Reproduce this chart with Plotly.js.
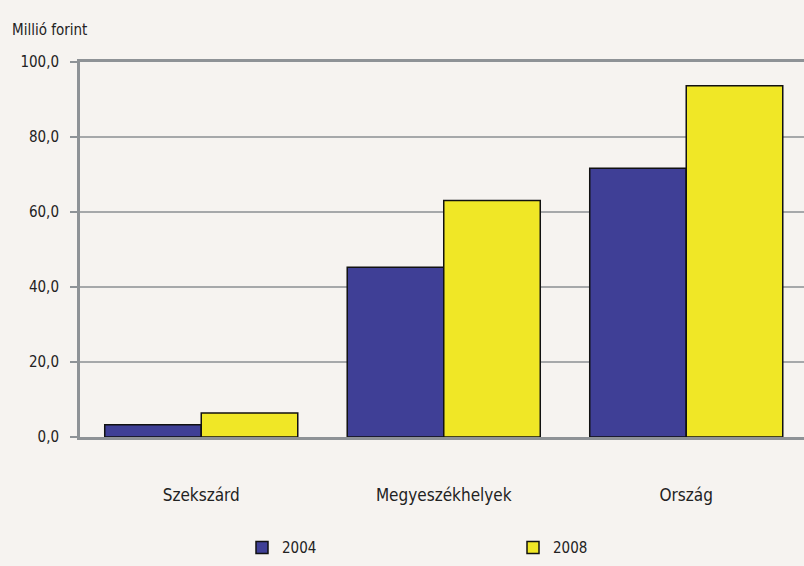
<!DOCTYPE html>
<html><head><meta charset="utf-8">
<script src="https://cdn.plot.ly/plotly-3.0.1.min.js"></script>
<style>html,body{margin:0;padding:0;background:#f6f3f0;}#c{width:804px;height:566px;}</style>
</head><body><div id="c"></div>
<script>
const categories = ["Szekszárd", "Megyeszékhelyek", "Ország"];
const series2004 = [3.3, 45.3, 71.7];
const series2008 = [6.4, 63.1, 93.7];
const seriesNames = ["2004", "2008"];
const yTicks = [0, 20, 40, 60, 80, 100];

const fontFam = "'DejaVu Sans Condensed', 'Liberation Sans Narrow', 'Liberation Sans', Arial, sans-serif";
const traces = [
  {type:'bar', x:categories, y:series2004, name:seriesNames[0], legend:'legend',
   marker:{color:'#3f3f96', line:{color:'#111', width:1.5}}},
  {type:'bar', x:categories, y:series2008, name:seriesNames[1], legend:'legend2',
   marker:{color:'#f0e726', line:{color:'#111', width:1.5}}}
];
const legendBase = {orientation:'h', yanchor:'middle', y:-0.295, xanchor:'left',
  font:{size:15, color:'#222'}, bgcolor:'rgba(0,0,0,0)', itemwidth:30};
const layout = {
  width:804, height:566,
  paper_bgcolor:'#f6f3f0', plot_bgcolor:'#f6f3f0',
  margin:{l:80, r:0, t:62, b:129},
  separators:',.',
  barmode:'group', bargap:0.204, bargroupgap:0,
  font:{family:fontFam, size:15, color:'#222'},
  xaxis:{range:[-0.5, 2.4856], showline:true, mirror:true, linecolor:'#8e9296', linewidth:3,
         ticks:'', showgrid:false, ticklabelstandoff:41, tickfont:{size:17, color:'#222'}},
  yaxis:{range:[0,100], tickvals:yTicks, tickformat:'.1f', showline:true, linecolor:'#8e9296', linewidth:3,
         ticks:'outside', ticklen:7, tickcolor:'#8e9296', tickwidth:2, ticklabelstandoff:8,
         gridcolor:'#a6a8aa', gridwidth:1.5, zeroline:false, tickfont:{size:15, color:'#222'}},
  showlegend:true,
  legend:Object.assign({}, legendBase, {x:(242-80)/724}),
  legend2:Object.assign({}, legendBase, {x:(513-80)/724}),
  annotations:[{text:'Millió forint', xref:'paper', yref:'paper', x:-0.097, y:1.085,
                xanchor:'left', yanchor:'middle', showarrow:false, font:{size:15, color:'#222'}}]
};
Plotly.newPlot('c', traces, layout, {displayModeBar:false});
</script></body></html>
